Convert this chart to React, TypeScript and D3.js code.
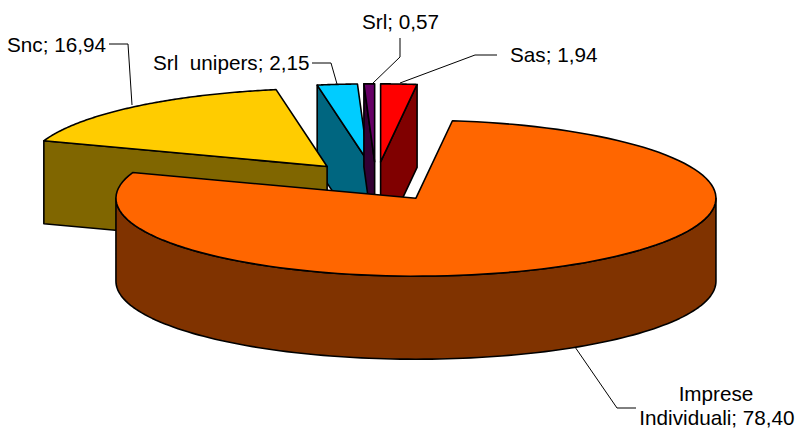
import React from "react";
import * as d3 from "d3";

const labels = ["Sas", "Imprese Individuali", "Snc", "Srl  unipers", "Srl"];
const values = [1.94, 78.4, 16.94, 2.15, 0.57];
const valueText = ["1,94", "78,40", "16,94", "2,15", "0,57"];
const topColors = ["#ff0000", "#ff6600", "#ffcc00", "#00ccff", "#660066"];
const sideColors = ["#800000", "#803300", "#806600", "#006680", "#330033"];

const cx = 376, cy = 181.5, rx = 300, ry = 78, depth = 83, explode = 75.6;

export default function App() {
  const arcs = d3.pie<number>().sort(null).value((d) => d)(values);
  const project = (a: number, r: number, ox: number, oy: number, dz = 0): [number, number] => [
    ox + r * rx * Math.sin(a),
    oy - r * ry * Math.cos(a) + dz,
  ];
  const slices = arcs.map((s, i) => {
    const mid = (s.startAngle + s.endAngle) / 2;
    const ox = cx + explode * Math.sin(mid);
    const oy = cy - explode * (ry / rx) * Math.cos(mid);
    const curve = (a0: number, a1: number, dz: number) =>
      d3.range(0, 121).map((k) => project(a0 + ((a1 - a0) * k) / 120, 1, ox, oy, dz));
    const top = [[ox, oy] as [number, number], ...curve(s.startAngle, s.endAngle, 0)];
    const vis0 = Math.max(s.startAngle, Math.PI / 2);
    const vis1 = Math.min(s.endAngle, (3 * Math.PI) / 2);
    const wall = vis1 > vis0 ? [...curve(vis0, vis1, 0), ...curve(vis1, vis0, depth)] : null;
    const cut = (a: number) => {
      const p = project(a, 1, ox, oy);
      return [[ox, oy], p, [p[0], p[1] + depth], [ox, oy + depth]] as [number, number][];
    };
    return {
      i,
      top,
      wall,
      c0: Math.sin(s.startAngle) < -1e-6 ? cut(s.startAngle) : null,
      c1: Math.sin(s.endAngle) > 1e-6 ? cut(s.endAngle) : null,
    };
  });
  const line = d3.line();
  const path = (p: [number, number][]) => line(p) + "Z";
  const order = [3, 4, 2, 0, 1];
  const sx = { stroke: "#000", strokeWidth: 1.6, strokeLinejoin: "round" as const };
  const font = { fontFamily: "Liberation Sans, Arial, sans-serif", fontSize: 20.7, fill: "#000" };
  const leaders: [number, number][][] = [
    [[400, 38], [400, 57], [372, 84]],
    [[497, 55], [475, 55], [400, 83]],
    [[312, 63], [331, 63], [337, 84]],
    [[109, 44], [128, 44], [132, 105]],
    [[636, 408], [617, 408], [575, 347]],
  ];
  return (
    <svg width={797} height={430} style={{ position: "absolute", left: 0, top: 0, background: "#fff" }}>
      {order.map((k) => {
        const s = slices[k];
        return (
          <g key={k} fill={sideColors[k]} {...sx}>
            {s.c0 && <path d={path(s.c0)} />}
            {s.c1 && <path d={path(s.c1)} />}
            {s.wall && <path d={path(s.wall)} />}
            <path d={path(s.top)} fill={topColors[k]} />
          </g>
        );
      })}
      {leaders.map((l, i) => (
        <path key={i} d={line(l) as string} fill="none" stroke="#000" strokeWidth={1} />
      ))}
      <text x={362} y={29} {...font}>{labels[4]}; {valueText[4]}</text>
      <text x={510} y={62} {...font}>{labels[0]}; {valueText[0]}</text>
      <text x={153} y={70} {...font} style={{ whiteSpace: "pre" }}>{labels[3]}; {valueText[3]}</text>
      <text x={7} y={52} {...font}>{labels[2]}; {valueText[2]}</text>
      <text x={716} y={401} textAnchor="middle" {...font}>Imprese</text>
      <text x={717} y={425} textAnchor="middle" {...font}>Individuali; {valueText[1]}</text>
    </svg>
  );
}
